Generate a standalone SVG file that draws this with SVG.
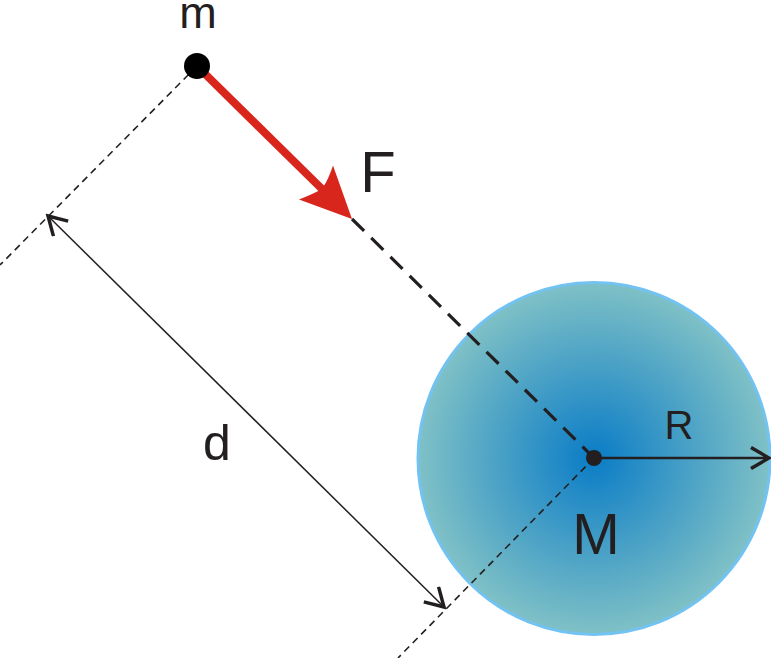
<svg xmlns="http://www.w3.org/2000/svg" width="771" height="658" viewBox="0 0 771 658">
<defs>
<radialGradient id="g" cx="594" cy="458" r="177" gradientUnits="userSpaceOnUse">
<stop offset="0" stop-color="#0a7cc6"/>
<stop offset="1" stop-color="#80c1c6"/>
</radialGradient>
<marker id="chev" viewBox="0 0 24 24" markerWidth="24" markerHeight="24" refX="21" refY="12" orient="auto-start-reverse" markerUnits="userSpaceOnUse">
<path d="M3 1.5 L21 12 L3 22.5" fill="none" stroke="#231f20" stroke-width="3.5"/>
</marker>
</defs>
<style>
.lbl{font-family:"Liberation Sans",Arial,sans-serif;fill:#231f20;text-anchor:middle}
.thin{stroke:#231f20;stroke-width:1.6;fill:none;stroke-dasharray:7 5}
</style>
<rect width="771" height="658" fill="#fff"/>
<g id="planet">
<circle cx="594" cy="458.5" r="176" fill="url(#g)" stroke="#72c2f2" stroke-width="3"/>
</g>
<g id="connectors">
<line class="thin" x1="197" y1="66" x2="0" y2="265"/>
<line class="thin" x1="594" y1="458" x2="398" y2="658"/>
<line x1="352" y1="219" x2="594" y2="458" stroke="#231f20" stroke-width="3.2" stroke-dasharray="17 10"/>
<line x1="48" y1="216" x2="444" y2="607" stroke="#231f20" stroke-width="1.5" marker-start="url(#chev)" marker-end="url(#chev)"/>
<line x1="594" y1="458" x2="769" y2="458" stroke="#231f20" stroke-width="2.5" marker-end="url(#chev)"/>
<line x1="197" y1="66" x2="322" y2="189" stroke="#d9261c" stroke-width="8"/>
<path d="M352 219 L333 165.5 Q326 186 320 190 Q313 194 299 199.5 Z" fill="#d9261c"/>
</g>
<g id="m">
<circle cx="197" cy="66" r="13" fill="#000"/>
<text class="lbl" x="198" y="28" font-size="45">m</text>
</g>
<g id="F"><text class="lbl" x="378" y="192" font-size="58">F</text></g>
<g id="d"><text class="lbl" x="217" y="460" font-size="50">d</text></g>
<g id="center"><circle cx="594" cy="458" r="8" fill="#231f20"/></g>
<g id="R"><text class="lbl" x="679" y="439" font-size="40">R</text></g>
<g id="M"><text class="lbl" x="596" y="554" font-size="57">M</text></g>
</svg>
